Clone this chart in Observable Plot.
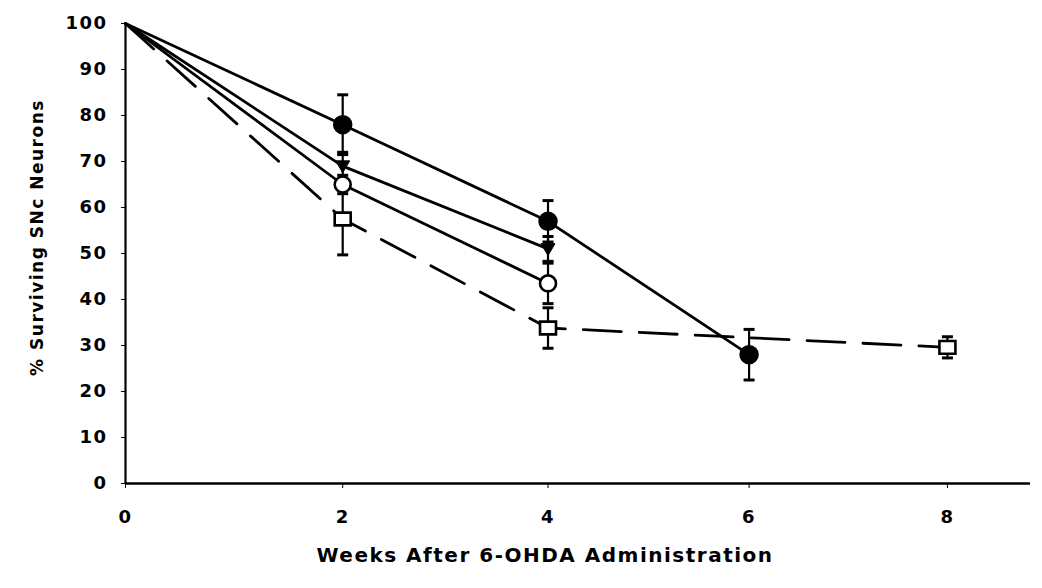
<!DOCTYPE html>
<html><head><meta charset="utf-8">
<script src="https://cdn.jsdelivr.net/npm/d3@7"></script>
<script src="https://cdn.jsdelivr.net/npm/@observablehq/plot@0.6"></script>
<style>body{margin:0;background:#fff}</style>
</head><body><div id="chart"></div>
<script>
// ---- data ----
const xTicks = [0, 2, 4, 6, 8];
const yTicks = [0, 10, 20, 30, 40, 50, 60, 70, 80, 90, 100];
const xLabel = "Weeks After 6-OHDA Administration";
const yLabel = "% Surviving SNc Neurons";

const filledCircleWeeks = [0, 2, 4, 6];
const filledCircleMean  = [100, 78, 57, 28];
const filledCircleErr   = [0, 6.5, 4.5, 5.5];

const triangleWeeks = [0, 2, 4];
const triangleMean  = [100, 69, 51];
const triangleErr   = [0, 3, 2.7];

const openCircleWeeks = [0, 2, 4];
const openCircleMean  = [100, 65, 43.5];
const openCircleErr   = [0, 2, 4.4];

const squareWeeks = [0, 2, 4, 8];
const squareMean  = [100, 57.5, 33.8, 29.6];
const squareErr   = [0, 7.8, 4.4, 2.3];

// ---- build tables ----
function rows(weeks, mean, err) {
  return weeks.map((w, i) => ({week: w, value: mean[i], lo: mean[i] - err[i], hi: mean[i] + err[i], err: err[i]}));
}
const fc = rows(filledCircleWeeks, filledCircleMean, filledCircleErr);
const tr = rows(triangleWeeks, triangleMean, triangleErr);
const oc = rows(openCircleWeeks, openCircleMean, openCircleErr);
const sq = rows(squareWeeks, squareMean, squareErr);
const all = [...fc, ...tr, ...oc, ...sq];
const bars = all.filter(d => d.err > 0);
const caps = bars.flatMap(d => [{week: d.week, v: d.lo}, {week: d.week, v: d.hi}]);
const markers = s => s.filter(d => d.week > 0);

// ---- custom symbols ----
const capSym = {draw(ctx, size) { const r = Math.sqrt(size / Math.PI); ctx.moveTo(-r, 0); ctx.lineTo(r, 0); }};
const triDown = {draw(ctx, size) { const r = Math.sqrt(size / Math.PI); ctx.moveTo(-r, -r * 0.75); ctx.lineTo(r, -r * 0.75); ctx.lineTo(0, r * 0.95); ctx.closePath(); }};
const rectSym = {draw(ctx, size) { const r = Math.sqrt(size / Math.PI); ctx.rect(-r, -r * 0.8, 2 * r, 1.6 * r); }};

const font = "'DejaVu Sans', sans-serif";

const chart = Plot.plot({
  width: 1042,
  height: 588,
  marginTop: 23,
  marginBottom: 105,
  marginLeft: 125,
  marginRight: 12,
  style: {fontFamily: font, fontWeight: "bold", fontSize: "18px", letterSpacing: "1.5px", color: "black", background: "white"},
  x: {type: "pow", exponent: 0.96, domain: [0, 8.844], ticks: xTicks, tickSize: 5, tickPadding: 22, tickFormat: d => d, label: null},
  y: {domain: [0, 100], ticks: yTicks, tickSize: 4, tickPadding: 14, tickFormat: d => d, label: null},
  marks: [
    Plot.ruleX([0], {strokeWidth: 2.2}),
    Plot.ruleY([0], {strokeWidth: 2.6}),
    Plot.line(fc, {x: "week", y: "value", strokeWidth: 2.8}),
    Plot.line(tr, {x: "week", y: "value", strokeWidth: 2.8}),
    Plot.line(oc, {x: "week", y: "value", strokeWidth: 2.8}),
    Plot.line(sq, {x: "week", y: "value", strokeWidth: 2.8, strokeDasharray: "38,18"}),
    Plot.ruleX(bars, {x: "week", y1: "lo", y2: "hi", strokeWidth: 2.2}),
    Plot.dot(caps, {x: "week", y: "v", symbol: capSym, r: 5.5, stroke: "black", fill: "none", strokeWidth: 3}),
    Plot.dot(markers(tr), {x: "week", y: "value", symbol: triDown, r: 7, fill: "black", stroke: "black", strokeWidth: 1}),
    Plot.dot(markers(fc), {x: "week", y: "value", r: 9, fill: "black", stroke: "black"}),
    Plot.dot(markers(oc), {x: "week", y: "value", r: 8, fill: "white", stroke: "black", strokeWidth: 2.6}),
    Plot.dot(markers(sq), {x: "week", y: "value", symbol: rectSym, r: 8, fill: "white", stroke: "black", strokeWidth: 2.6}),
    Plot.text([xLabel], {frameAnchor: "bottom", textAnchor: "middle", dx: -33, dy: 78, fontSize: 20, fontWeight: "bold"}),
    Plot.text([yLabel], {frameAnchor: "left", textAnchor: "middle", rotate: -90, dx: -88, dy: -16, fontSize: 17, fontWeight: "bold"})
  ]
});
document.getElementById("chart").appendChild(chart);
</script>
</body></html>
